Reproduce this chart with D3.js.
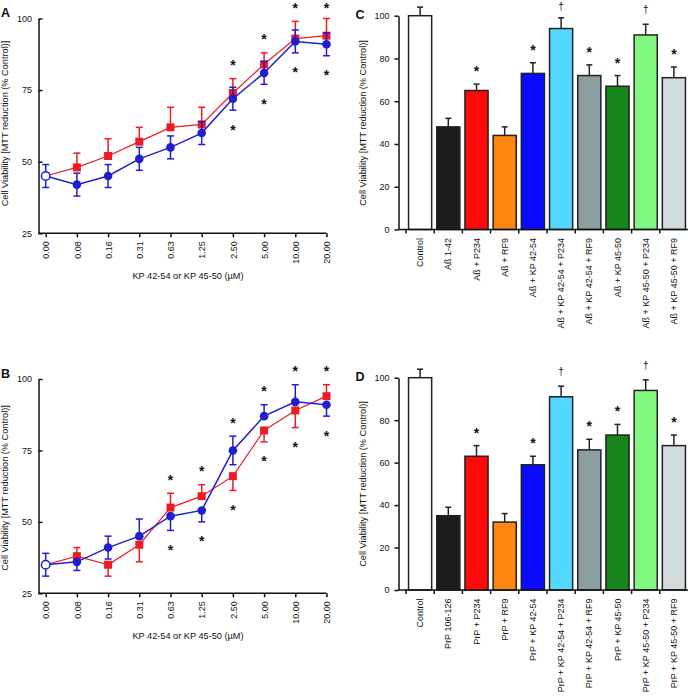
<!DOCTYPE html>
<html>
<head>
<meta charset="utf-8">
<script src="https://cdn.jsdelivr.net/npm/d3@7"></script>
<style>
html,body{margin:0;padding:0;background:#fff;}
svg{display:block;font-family:"Liberation Sans",Arial,sans-serif;}
</style>
</head>
<body>
<svg id="chart" width="688" height="696"></svg>
<script>
// ---------- DATA ----------
const concLabels = ["0.00","0.08","0.16","0.31","0.63","1.25","2.50","5.00","10.00","20.00"];
const lineTicks = [25, 50, 75, 100];

// Panel A
const aRed = [45, 48, 52, 57, 62, 63, 74, 84, 93, 94];
const aRedUp = [0, 5, 6, 5, 7, 6, 5, 4, 6, 6];
const aRedDown = [0, 0, 0, 0, 0, 0, 0, 0, 0, 0];
const aBlue = [45, 42, 45, 51, 55, 60, 72, 81, 92, 91];
const aBlueUp = [4, 4, 4, 4, 4, 4, 4, 4, 4, 4];
const aBlueDown = [4, 4, 4, 4, 4, 4, 4, 4, 4, 4];
const aStarIdx = [6, 7, 8, 9];

// Panel B
const bRed = [35, 38, 35, 42, 55, 59, 66, 82, 89, 94];
const bRedUp = [0, 3, 0, 0, 5, 4, 0, 0, 0, 4];
const bRedDown = [0, 0, 4, 6, 0, 0, 5, 4, 6, 0];
const bBlue = [35, 36, 41, 45, 52, 54, 75, 87, 92, 91];
const bBlueUp = [4, 0, 4, 6, 0, 0, 5, 4, 6, 0];
const bBlueDown = [4, 3, 4, 0, 5, 4, 5, 0, 0, 4];
const bStarIdx = [4, 5, 6, 7, 8, 9];

// Panels C and D
const barTicks = [0, 20, 40, 60, 80, 100];
const barColors = ["#ffffff","#1c1c1c","#ff0a0a","#ff8410","#0a0aff","#55d8ff","#8c9ea0","#17861a","#80f780","#d2dcdc"];
const barMarks = ["", "", "*", "", "*", "\u2020", "*", "*", "\u2020", "*"];

const cLabels = ["Control","A\u00df 1-42","A\u00df + P234","A\u00df + RF9","A\u00df + KP 42-54","A\u00df + KP 42-54 + P234","A\u00df + KP 42-54 + RF9","A\u00df + KP 45-50","A\u00df + KP 45-50 + P234","A\u00df + KP 45-50 + RF9"];
const cValues = [100, 48, 65, 44, 73, 94, 72, 67, 91, 71];
const cErr = [4, 4, 3, 4, 5, 5, 5, 5, 5, 5];

const dLabels = ["Control","PrP 106-126","PrP + P234","PrP + RF9","PrP + KP 42-54","PrP + KP 42-54 + P234","PrP + KP 42-54 + RF9","PrP + KP 45-50","PrP + KP 45-50 + P234","PrP + KP 45-50 + RF9"];
const dValues = [100, 35, 63, 32, 59, 91, 66, 73, 94, 68];
const dErr = [4, 4, 5, 4, 4, 5, 5, 5, 5, 5];

const yTitle = "Cell Viability [MTT reduction (% Control)]";
const xTitle = "KP 42-54 or KP 45-50 (\u00b5M)";

// ---------- DRAWING ----------
const svg = d3.select("#chart");
const RED = "#ec1c24", BLUE = "#1f1fd0", INK = "#111";
const FS = 9;

function styleAxis(g) {
  g.selectAll("path,line").attr("stroke", INK).attr("stroke-width", 1.5);
  g.selectAll("text").style("fill", INK).style("font-size", FS + "px");
}

function star(g, x, yc, ch) {
  const isStar = ch === "*";
  const fs = isStar ? 14 : 10;
  const off = isStar ? 0.57 : 0.3;
  const c = Math.max(yc, isStar ? 5.5 : 6.5);
  g.append("text").attr("x", x).attr("y", c + off * fs)
    .attr("text-anchor", "middle").style("font-size", fs + "px")
    .style("font-weight", isStar ? "bold" : "normal")
    .style("fill", INK).text(ch);
}

function linePanel(o) {
  const g = svg.append("g");
  const x = d3.scalePoint().domain(concLabels).range([45.7, 326.5]);
  const y = d3.scaleLinear().domain([25, 100]).range([o.y0, o.y1]);
  const ax = 38.5;

  const ya = g.append("g").attr("transform", `translate(${ax},0)`)
    .call(d3.axisLeft(y).tickValues(lineTicks).tickSizeInner(-4).tickSizeOuter(0).tickPadding(6.5));
  styleAxis(ya);

  const xa = g.append("g").attr("transform", `translate(0,${o.y0})`)
    .call(d3.axisBottom(x).tickSizeInner(4).tickSizeOuter(0));
  xa.select(".domain").remove();
  xa.append("line").attr("x1", ax).attr("x2", x(concLabels[concLabels.length - 1]));
  styleAxis(xa);
  xa.selectAll("text").attr("transform", "rotate(-90)").attr("x", -8).attr("y", 0)
    .attr("dy", "0.35em").style("text-anchor", "end");

  g.append("text").attr("transform", `translate(5,${o.ty}) rotate(-90)`)
    .attr("text-anchor", "middle").attr("dy", "0.35em").style("font-size", "9.2px")
    .style("fill", INK).text(yTitle);
  g.append("text").attr("x", 188).attr("y", o.xty).attr("text-anchor", "middle")
    .style("font-size", "9.2px").style("fill", INK).text(xTitle);
  g.append("text").attr("x", 1).attr("y", o.y1 - 1.5).style("font-size", "12.5px")
    .style("font-weight", "bold").style("fill", INK).text(o.label);

  const series = [
    {v: o.red, up: o.redUp, dn: o.redDown, c: RED, w: 1.2, shape: "sq"},
    {v: o.blue, up: o.blueUp, dn: o.blueDown, c: BLUE, w: 1.5, shape: "ci"}
  ];
  series.forEach(s => {
    const eg = g.append("g").attr("stroke", s.c).attr("stroke-width", 1.5);
    s.v.forEach((v, i) => {
      if (i === 0) return;
      const xi = x(concLabels[i]);
      [[s.up[i], 1], [s.dn[i], -1]].forEach(([e, dir]) => {
        if (!e) return;
        const ye = y(v + dir * e);
        eg.append("line").attr("x1", xi).attr("x2", xi).attr("y1", y(v)).attr("y2", ye);
        eg.append("line").attr("x1", xi - 3.5).attr("x2", xi + 3.5).attr("y1", ye).attr("y2", ye);
      });
    });
    const line = d3.line().x((d, i) => x(concLabels[i])).y(d => y(d));
    g.append("path").datum(s.v).attr("d", line).attr("fill", "none")
      .attr("stroke", s.c).attr("stroke-width", s.w);
    const pts = s.v.slice(1);
    if (s.shape === "sq") {
      g.selectAll(null).data(pts).join("rect")
        .attr("x", (d, i) => x(concLabels[i + 1]) - 4).attr("y", d => y(d) - 4)
        .attr("width", 8).attr("height", 8).attr("fill", s.c);
    } else {
      g.selectAll(null).data(pts).join("circle")
        .attr("cx", (d, i) => x(concLabels[i + 1])).attr("cy", d => y(d))
        .attr("r", 4.3).attr("fill", s.c);
    }
  });
  const x0 = x(concLabels[0]), v0 = o.blue[0];
  const eg0 = g.append("g").attr("stroke", BLUE).attr("stroke-width", 1.5);
  [[o.blueUp[0], 1], [o.blueDown[0], -1]].forEach(([e, dir]) => {
    const ye = y(v0 + dir * e);
    eg0.append("line").attr("x1", x0).attr("x2", x0).attr("y1", y(v0)).attr("y2", ye);
    eg0.append("line").attr("x1", x0 - 3.5).attr("x2", x0 + 3.5).attr("y1", ye).attr("y2", ye);
  });
  g.append("circle").attr("cx", x0).attr("cy", y(v0)).attr("r", 4.3)
    .attr("fill", "#fff").attr("stroke", BLUE).attr("stroke-width", 1.5);

  o.stars.forEach(i => {
    const xi = x(concLabels[i]);
    const top = Math.max(o.red[i] + o.redUp[i], o.blue[i] + o.blueUp[i]);
    const bot = Math.min(o.red[i] - o.redDown[i], o.blue[i] - o.blueDown[i]);
    star(g, xi, y(top) - 16.5, "*");
    star(g, xi, y(bot) + 16.5, "*");
  });
}

function barPanel(o) {
  const g = svg.append("g");
  const x = d3.scaleBand().domain(o.labels).range([406, 688]).paddingInner(0.18).paddingOuter(0.09);
  const y = d3.scaleLinear().domain([0, 100]).range([o.y0, o.y1]);
  const ax = 398.5;

  const ya = g.append("g").attr("transform", `translate(${ax},0)`)
    .call(d3.axisLeft(y).tickValues(barTicks).tickSizeInner(4).tickSizeOuter(0).tickPadding(5));
  styleAxis(ya);

  g.selectAll(null).data(o.values).join("rect")
    .attr("x", (d, i) => x(o.labels[i])).attr("y", d => y(d))
    .attr("width", x.bandwidth()).attr("height", d => y(0) - y(d))
    .attr("fill", (d, i) => barColors[i]).attr("stroke", "#222").attr("stroke-width", 1.5);

  const eg = g.append("g").attr("stroke", "#222").attr("stroke-width", 1.5);
  o.values.forEach((v, i) => {
    const xc = x(o.labels[i]) + x.bandwidth() / 2;
    const ye = y(v + o.err[i]);
    eg.append("line").attr("x1", xc).attr("x2", xc).attr("y1", y(v)).attr("y2", ye);
    eg.append("line").attr("x1", xc - 3).attr("x2", xc + 3).attr("y1", ye).attr("y2", ye);
    if (barMarks[i]) {
      star(g, xc, ye - (barMarks[i] === "*" ? 16 : 14), barMarks[i]);
    }
  });

  const xg = g.append("g").attr("stroke", INK).attr("stroke-width", 1.5);
  xg.append("line").attr("x1", ax).attr("x2", 688).attr("y1", y(0)).attr("y2", y(0));
  const step = x.step();
  o.labels.forEach((l, i) => {
    const bx = x(l) - step * 0.09;
    xg.append("line").attr("x1", bx).attr("x2", bx).attr("y1", y(0)).attr("y2", y(0) + 4);
  });
  g.selectAll(null).data(o.labels).join("text")
    .attr("transform", d => `translate(${x(d) + x.bandwidth() / 2},${y(0) + 8.5}) rotate(-90)`)
    .attr("text-anchor", "end").attr("dy", "0.35em").style("font-size", FS + "px")
    .style("fill", INK).text(d => d);

  g.append("text").attr("transform", `translate(363,${o.ty}) rotate(-90)`)
    .attr("text-anchor", "middle").attr("dy", "0.35em").style("font-size", "9.2px")
    .style("fill", INK).text(yTitle);
  g.append("text").attr("x", 355.5).attr("y", o.y1 + 3).style("font-size", "12.5px")
    .style("font-weight", "bold").style("fill", INK).text(o.label);
}

linePanel({label: "A", y0: 233.3, y1: 18.5, ty: 123.5, xty: 278.5,
  red: aRed, redUp: aRedUp, redDown: aRedDown, blue: aBlue, blueUp: aBlueUp, blueDown: aBlueDown, stars: aStarIdx});
linePanel({label: "B", y0: 593.3, y1: 379, ty: 488, xty: 638.5,
  red: bRed, redUp: bRedUp, redDown: bRedDown, blue: bBlue, blueUp: bBlueUp, blueDown: bBlueDown, stars: bStarIdx});
barPanel({label: "C", labels: cLabels, values: cValues, err: cErr, y0: 229.5, y1: 15.7, ty: 123});
barPanel({label: "D", labels: dLabels, values: dValues, err: dErr, y0: 590, y1: 377.7, ty: 484});
</script>
</body>
</html>
